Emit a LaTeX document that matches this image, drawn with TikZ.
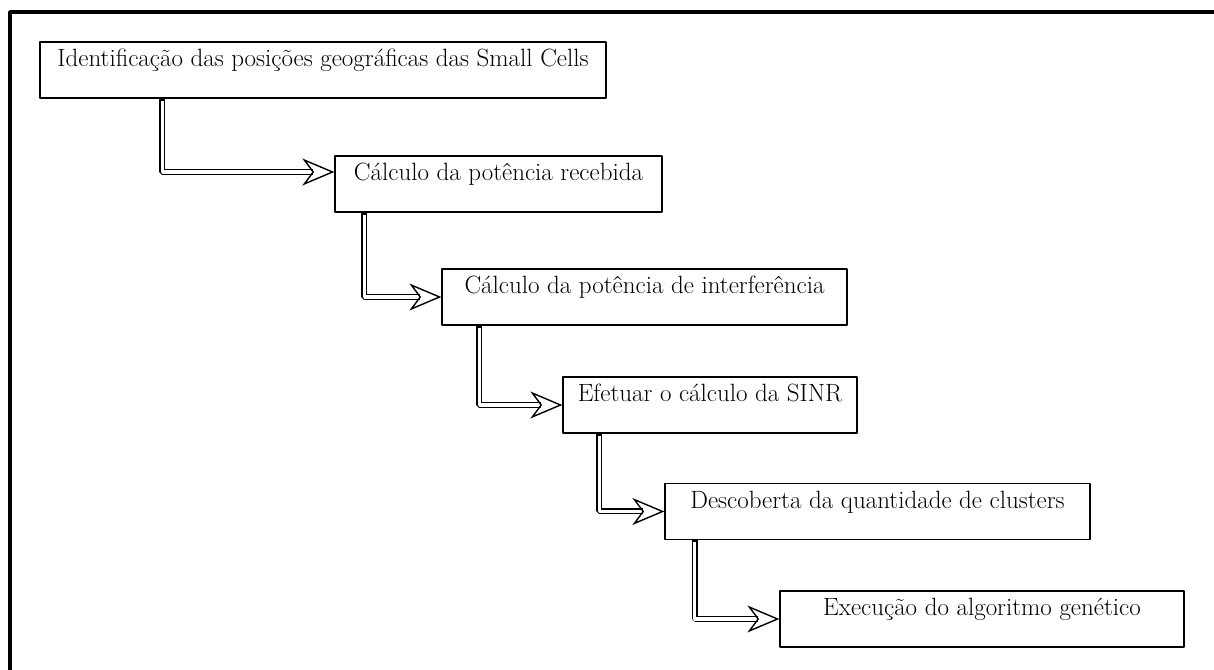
\documentclass[tikz,border=0pt]{standalone}
\usetikzlibrary{arrows.meta}
\begin{document}
\begin{tikzpicture}[>=latex,line join=bevel,
    stepbox/.style={draw,rectangle,line width=1.3bp,inner sep=0pt,
      text height=25bp,text depth=31bp,font=\fontsize{25bp}{30bp}\selectfont},
    flow/.style={double,double distance=3.2bp,line width=1.4bp,
      {Bar[width=6bp,line width=2bp]}-{Stealth[open,length=32bp,width=27bp,inset=10bp]}},
  ]
    \useasboundingbox (0bp,0bp) rectangle (1214bp,670bp);
    %% frame
    \draw [line width=4bp] (9.5bp,0bp) -- (9.5bp,658bp) -- (1214bp,658bp);
    %%
    \node (b1) at (323.0bp,600.0bp) [stepbox,minimum width=566bp] {Identificação das posições geográficas das Small Cells};
    \node (b2) at (498.5bp,486.0bp) [stepbox,minimum width=327bp] {Cálculo da potência recebida};
    \node (b3) at (644.5bp,373.0bp) [stepbox,minimum width=405bp] {Cálculo da potência de interferência};
    \node (b4) at (710.0bp,265.0bp) [stepbox,minimum width=294bp] {Efetuar o cálculo da SINR};
    \node (b5) at (877.5bp,158.5bp) [stepbox,minimum width=425bp] {Descoberta da quantidade de clusters};
    \node (b6) at (982.0bp,51.0bp) [stepbox,minimum width=404bp] {Execução do algoritmo genético};
    \draw [flow] ([xshift=123bp]b1.south west) |- ([yshift=12bp]b2.west);
    \draw [flow] ([xshift=30bp]b2.south west) |- (b3.west);
    \draw [flow] ([xshift=38bp]b3.south west) |- (b4.west);
    \draw [flow] ([xshift=37bp]b4.south west) |- (b5.west);
    \draw [flow] ([xshift=30.5bp]b5.south west) |- (b6.west);
    %
\end{tikzpicture}
\end{document}
